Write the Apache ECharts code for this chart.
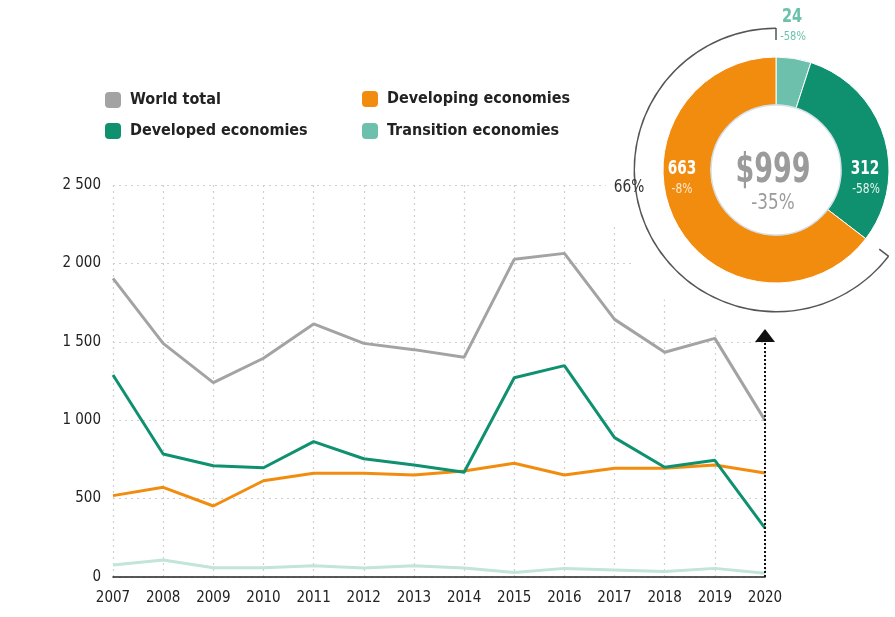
<!DOCTYPE html>
<html>
<head>
<meta charset="utf-8">
<script src="https://cdn.jsdelivr.net/npm/echarts@6/dist/echarts.min.js"></script>
<style>
  html, body { margin: 0; padding: 0; background: #fff; }
  #chart { width: 895px; height: 617px; }
</style>
</head>
<body>
<div id="chart"></div>
<script>
// 数据
var years = ['2007','2008','2009','2010','2011','2012','2013','2014','2015','2016','2017','2018','2019','2020'];
var worldTotal = [1905, 1490, 1240, 1395, 1614, 1490, 1450, 1401, 2026, 2064, 1643, 1433, 1522, 999];
var developed  = [1288, 784, 710, 697, 863, 754, 714, 668, 1271, 1348, 889, 700, 744, 312];
var developing = [519, 572, 453, 614, 661, 661, 650, 676, 725, 650, 693, 693, 714, 663];
var transition = [77, 108, 59, 59, 72, 57, 72, 57, 28, 55, 45, 35, 55, 24];

// 2020 饼图
var pieNames   = ['Transition economies', 'Developed economies', 'Developing economies'];
var pieValues  = [24, 312, 663];
var pieChanges = ['-58%', '-58%', '-8%'];
var totalChange = '-35%';
var arrowTop = 1540;

var FONT = "'Liberation Sans Narrow', 'Arial Narrow', 'DejaVu Sans Condensed', Roboto, sans-serif";
var C_WORLD = '#a3a3a3', C_DEV = '#0f9170', C_DVG = '#f28c0f', C_TRN = '#6cc0ac', C_TRN_LINE = '#c2e4da';

var cx = 776, cy = 170;
var MIN_ANGLE = 18;
var total = pieValues.reduce(function(a, b){ return a + b; }, 0);
var share = Math.round(pieValues[2] / total * 100) + '%';

// 括号弧两端的小刻度 (小扇区用 minAngle, 其余按比例分)
var rest = pieValues[1] + pieValues[2];
var orangeStart = 90 - MIN_ANGLE - (360 - MIN_ANGLE) * pieValues[1] / rest;
function tick(angleDeg) {
  var a = angleDeg * Math.PI / 180;
  return {
    type: 'line', z: 10, silent: true,
    shape: {
      x1: cx + 130 * Math.cos(a), y1: cy - 130 * Math.sin(a),
      x2: cx + 142 * Math.cos(a), y2: cy - 142 * Math.sin(a)
    },
    style: { stroke: '#555', lineWidth: 1.5 }
  };
}

function txt(text, x, y, font, color, sx) {
  return {
    type: 'text', z: 20, silent: true, x: x, y: y, scaleX: sx || 1,
    style: { text: text, x: 0, y: 0, align: 'center', verticalAlign: 'middle', font: font, fill: color }
  };
}

function legendItem(name, color, left, top) {
  return {
    data: [{ name: name, itemStyle: { color: color } }],
    left: left, top: top, itemWidth: 16, itemHeight: 16, icon: 'roundRect',
    selectedMode: false,
    textStyle: { fontFamily: FONT, fontSize: 16, fontWeight: 'bold', color: '#222', padding: [0, 0, 0, 4] }
  };
}

function lineSeries(name, data, color, width, extra) {
  var s = {
    name: name, type: 'line', data: data, symbol: 'none', z: 3,
    lineStyle: { color: color, width: width }, itemStyle: { color: color }
  };
  return Object.assign(s, extra || {});
}

var chart = echarts.init(document.getElementById('chart'));
var option = {
  animation: false,
  legend: [
    legendItem('World total', C_WORLD, 100, 87),
    legendItem('Developing economies', C_DVG, 357, 86),
    legendItem('Developed economies', C_DEV, 100, 118),
    legendItem('Transition economies', C_TRN, 357, 118)
  ],
  grid: { left: 113, right: 130, top: 185, bottom: 40 },
  xAxis: {
    type: 'category', data: years, boundaryGap: false,
    axisLine: { lineStyle: { color: '#222', width: 1.5 } },
    axisTick: { show: false },
    axisLabel: { fontFamily: FONT, fontSize: 15, color: '#222', margin: 14 },
    splitLine: { show: true, lineStyle: { color: '#cfcfcf', type: [2, 4], width: 1.2 } }
  },
  yAxis: {
    type: 'value', min: 0, max: 2500, interval: 500,
    axisLine: { show: false }, axisTick: { show: false },
    axisLabel: {
      fontFamily: FONT, fontSize: 15, color: '#222', margin: 12,
      formatter: function(v){ return v >= 1000 ? Math.floor(v / 1000) + ' ' + String(v % 1000).padStart(3, '0') : String(v); }
    },
    splitLine: { lineStyle: { color: '#cfcfcf', type: [2, 4], width: 1.2 } }
  },
  graphic: [
    { type: 'circle', z: 1, silent: true, shape: { cx: cx, cy: cy, r: 171 }, style: { fill: '#fff' } },
    { type: 'circle', z: 10, silent: true, shape: { cx: cx, cy: cy, r: 65 }, style: { fill: '#fff', stroke: '#d4e0e8', lineWidth: 1.5 } },
    tick(90), tick(orangeStart),
    txt(String(pieValues[0]), 792, 17, 'bold 19px ' + FONT, C_TRN, 0.85),
    txt(pieChanges[0], 793, 37, '13px ' + FONT, C_TRN, 0.85),
    txt(String(pieValues[1]), 865, 169, 'bold 19px ' + FONT, '#fff', 0.8),
    txt(pieChanges[1], 866, 189, '14px ' + FONT, '#e6f4ef', 0.85),
    txt(String(pieValues[2]), 682, 169, 'bold 19px ' + FONT, '#fff', 0.8),
    txt(pieChanges[2], 682, 189, '14px ' + FONT, '#fde9cf', 0.85),
    txt('$' + total, cx - 3, 172, 'bold 40px ' + FONT, '#9b9b9b', 0.75),
    txt(totalChange, cx - 3, 203, '22px ' + FONT, '#9b9b9b', 0.85),
    txt(share, 629, 187, '18px ' + FONT, '#333', 0.85)
  ],
  series: [
    lineSeries('Transition economies', transition, C_TRN_LINE, 3),
    lineSeries('Developing economies', developing, C_DVG, 3),
    lineSeries('Developed economies', developed, C_DEV, 3),
    lineSeries('World total', worldTotal, C_WORLD, 3, {
      markLine: {
        silent: true, symbol: ['none', 'triangle'], symbolSize: [20, 13],
        label: { show: false },
        lineStyle: { color: '#111', type: [2, 2], width: 2 },
        data: [[{ coord: [years.length - 1, 0] }, { coord: [years.length - 1, arrowTop] }]]
      }
    }),
    {
      type: 'pie', center: [cx, cy], radius: [65, 113], startAngle: 90, minAngle: MIN_ANGLE, z: 5,
      silent: true, label: { show: false }, labelLine: { show: false },
      itemStyle: { borderColor: '#fff', borderWidth: 1 },
      data: pieValues.map(function(v, i){
        return { name: pieNames[i], value: v, itemStyle: { color: [C_TRN, C_DEV, C_DVG][i] } };
      })
    },
    {
      type: 'pie', center: [cx, cy], radius: [141, 142.5], startAngle: 90, minAngle: MIN_ANGLE, z: 5,
      silent: true, label: { show: false }, labelLine: { show: false },
      data: pieValues.map(function(v, i){
        return { name: 'b' + i, value: v, itemStyle: { color: i === 2 ? '#555' : 'rgba(0,0,0,0)' } };
      })
    }
  ]
};
chart.setOption(option);
</script>
</body>
</html>
